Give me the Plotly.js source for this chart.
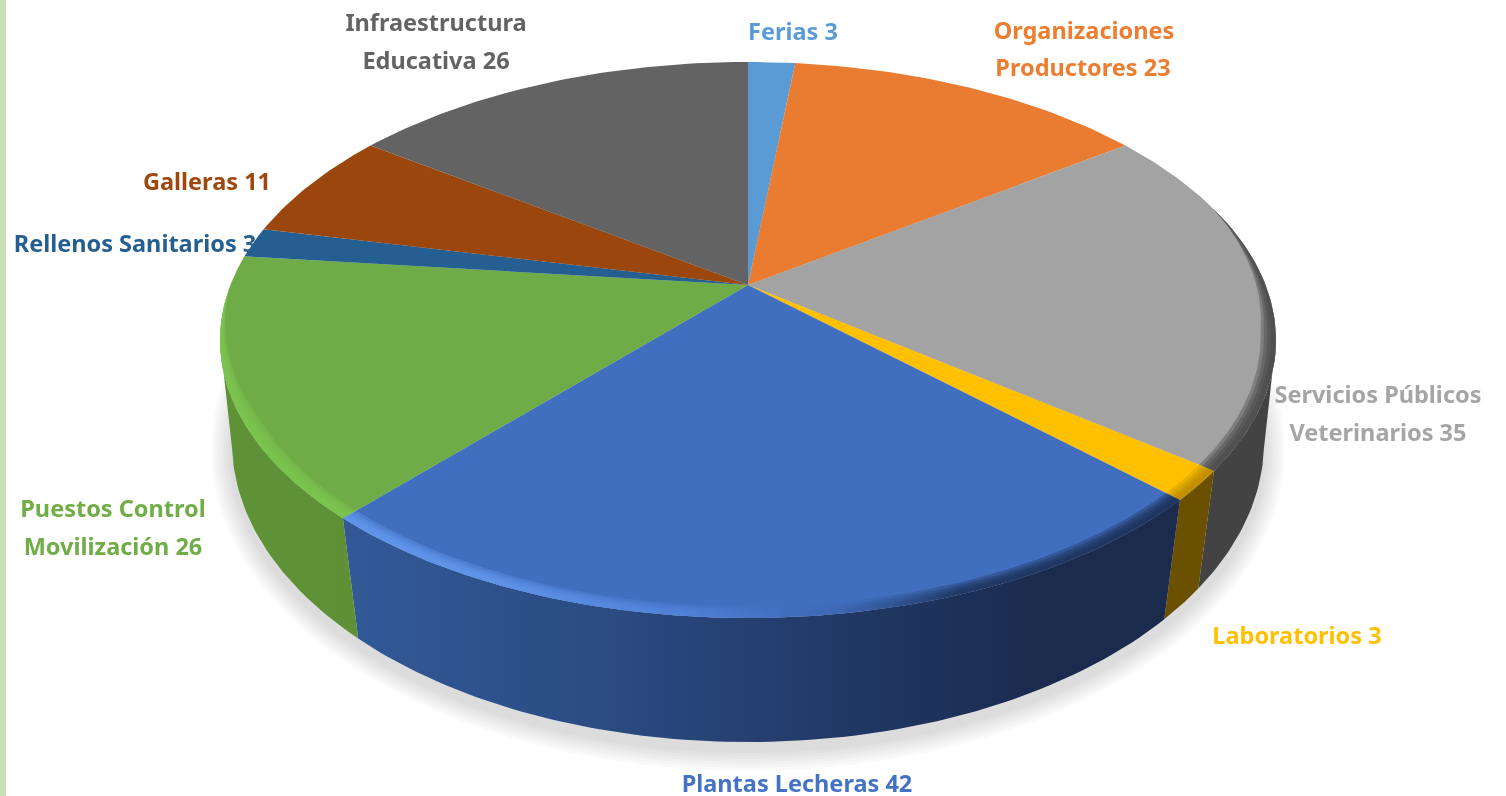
<!DOCTYPE html>
<html>
<head>
<meta charset="utf-8">
<script src="https://cdn.plot.ly/plotly-3.0.1.min.js"></script>
<style>
html,body{margin:0;padding:0;background:#fff;overflow:hidden}
#chart{width:1506px;height:796px;filter:blur(0.7px)}
</style>
</head>
<body>
<div id="chart"></div>
<script>
// ---- data ----
const categories = ["Ferias", "Organizaciones|Productores", "Servicios Públicos|Veterinarios", "Laboratorios",
  "Plantas Lecheras", "Puestos Control|Movilización", "Rellenos Sanitarios", "Galleras", "Infraestructura|Educativa"];
const values = [3, 23, 35, 3, 42, 26, 3, 11, 26];
const faceColors = ["#5b9bd5", "#e97c30", "#a3a3a3", "#ffc000", "#416fbf", "#6fab47", "#255e91", "#9a460c", "#636363"];
const textColors = ["#5b9bd5", "#ed7d31", "#a5a5a5", "#ffc000", "#4472c4", "#70ad47", "#255e91", "#9e480e", "#636363"];

// ---- layout of the drawing (pixels of the hidden axes) ----
const labelCentres = [[[793,34]], [[1084,33],[1083,70]], [[1378,397],[1378,435]], [[1297,638]], [[797,786]],
  [[113,511],[113,549]], [[135,246]], [[207,184]], [[436,25],[436,63]]];
const TOP = {cx:748, cy:340, rx:528, ry:278, p:-0.198};
const BOT = {cx:748, cy:442, rx:516, ry:300, p:-0.175};
const wallStops = {
  2:[[0,"#434343"],[1,"#434343"]],
  3:[[0,"#6b5000"],[1,"#6b5000"]],
  4:[[0,"#365f9f"],[0.35,"#2b4c84"],[0.6,"#213865"],[0.78,"#1a2b4e"],[1,"#1a2b4e"]],
  5:[[0,"#5f9136"],[1,"#5c8d35"]]
};
// ring of light / dark along the top face edge: [slice, from deg, to deg, taper at start, taper at end, stops over the pie width]
const ringStops = [
  [5, null, 270, false, true, [[0,"rgba(125,200,80,1)"],[1,"rgba(125,200,80,1)"]]],
  [4, null, null, false, false, [[0,"rgba(100,155,240,1)"],[0.25,"rgba(100,155,240,1)"],[0.45,"rgba(85,135,225,0.7)"],[0.58,"rgba(60,100,175,0.5)"],[0.7,"rgba(26,43,78,0.85)"],[1,"rgba(26,43,78,1)"]]],
  [3, null, null, false, false, [[0,"rgba(150,110,0,0.5)"],[1,"rgba(150,110,0,0.5)"]]],
  [2, 72, null, true, false, [[0,"rgba(67,67,67,1)"],[1,"rgba(67,67,67,1)"]]]
];

function project(e, deg, r){
  const a = deg*Math.PI/180, u = r*Math.sin(a), v = -r*Math.cos(a), d = 1 + e.p*v;
  return [e.cx + e.rx*u*Math.sqrt(1-e.p*e.p)/d, e.cy + e.ry*(v+e.p)/d];
}
function arc(e, from, to, r){
  const n = Math.max(2, Math.ceil(Math.abs(to-from)/1)), out = [];
  for(let i=0;i<=n;i++) out.push(project(e, from+(to-from)*i/n, r));
  return out;
}
function poly(points, extra){
  return Object.assign({type:'scatter', mode:'lines', x:points.map(p=>p[0]), y:points.map(p=>p[1]),
    fill:'toself', line:{width:0}, hoverinfo:'skip', showlegend:false}, extra);
}

const total = values.reduce((s,v)=>s+v,0);
const starts = [], ends = [];
let run = 0;
values.forEach(v=>{ starts.push(run/total*360); run += v; ends.push(run/total*360); });

const traces = [];

// labels first: the pie covers the end of "Rellenos Sanitarios 3"
const lx=[], ly=[], lt=[], lc=[];
categories.forEach((c,i)=>{
  const lines = (c+' '+values[i]).split('|');
  lines.forEach((t,j)=>{ lx.push(labelCentres[i][j][0]); ly.push(labelCentres[i][j][1]); lt.push(t); lc.push(textColors[i]); });
});
traces.push({type:'scatter', mode:'text', x:lx, y:ly, text:lt, textposition:'middle center', cliponaxis:false,
  textfont:{family:'"Noto Sans", sans-serif', size:23.5, weight:700, color:lc}, hoverinfo:'skip', showlegend:false});

// soft shadow
for(let d=3;d<=21;d+=3){
  const pts=[];
  for(let a=0;a<=360;a+=3){ const t=a*Math.PI/180; pts.push([BOT.cx+(BOT.rx+d)*Math.sin(t), BOT.cy+8+(BOT.ry+d)*Math.cos(t)]); }
  traces.push(poly(pts,{fillcolor:'rgba(0,0,0,0.018)'}));
}

// side walls
const wallFrom = 101.4, wallTo = 258.6;
values.forEach((v,i)=>{
  const a0 = Math.max(starts[i],wallFrom), a1 = Math.min(ends[i],wallTo);
  if(a1<=a0) return;
  const pts = arc(TOP,a0,a1,1).concat(arc(BOT,a1,a0,1));
  traces.push(poly(pts,{fillgradient:{type:'horizontal',colorscale:wallStops[i],start:BOT.cx-BOT.rx,stop:BOT.cx+BOT.rx},
    fillcolor:faceColors[i]}));
});

// top faces
const apex = project(TOP,0,0);
values.forEach((v,i)=>{
  traces.push(poly([apex].concat(arc(TOP,starts[i],ends[i],1)).concat([apex]),{fillcolor:faceColors[i]}));
});

// edge ring: several faint layers so the inner edge is soft
ringStops.forEach(([i,from,to,taperA,taperB,stops])=>{
  const a0 = from===null?starts[i]:from, a1 = to===null?ends[i]:to, span = 28;
  [0.972,0.978,0.984,0.99].forEach(r=>{
    const inner=[];
    for(let a=a1;a>=a0;a-=1){
      let k=1;
      if(taperA) k=Math.min(k,(a-a0)/span);
      if(taperB) k=Math.min(k,(a1-a)/span);
      inner.push(project(TOP,a,1-(1-r)*k));
    }
    inner.push(project(TOP,a0,taperA?1:r));
    traces.push(poly(arc(TOP,a0,a1,1).concat(inner),{opacity:0.38,
      fillgradient:{type:'horizontal',colorscale:stops,start:TOP.cx-TOP.rx,stop:TOP.cx+TOP.rx}, fillcolor:faceColors[i]}));
  });
});

const layout = {
  width:1506, height:796, margin:{l:0,r:0,t:0,b:0}, paper_bgcolor:'#ffffff', plot_bgcolor:'#ffffff',
  showlegend:false, hovermode:false,
  xaxis:{range:[0,1506],visible:false,fixedrange:true},
  yaxis:{range:[796,0],visible:false,fixedrange:true},
  shapes:[{type:'rect',xref:'x',yref:'y',x0:0,x1:6,y0:0,y1:796,fillcolor:'#c6e0b4',line:{width:0},layer:'below'}]
};
Plotly.newPlot('chart',traces,layout,{displayModeBar:false,staticPlot:true});
</script>
</body>
</html>
